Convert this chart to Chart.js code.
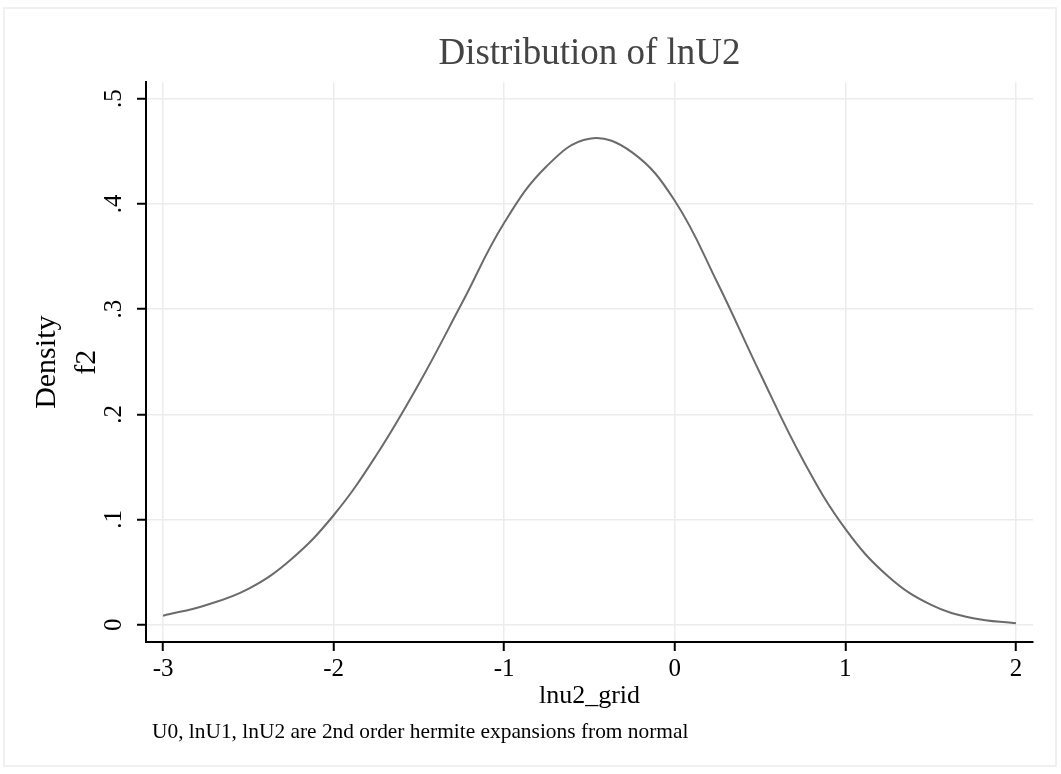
<!DOCTYPE html>
<html>
<head>
<meta charset="utf-8">
<script src="https://cdn.jsdelivr.net/npm/chart.js@4/dist/chart.umd.min.js"></script>
<style>
  html, body { margin: 0; padding: 0; background: #fff; }
  #wrap { position: relative; width: 1061px; height: 774px; }
  #frame { position: absolute; left: 3px; top: 7px; width: 1054px; height: 760px;
           border: 2px solid #f0f0f0; box-sizing: border-box; }
  #note { position: absolute; left: 152px; top: 719px; font: 21.4px 'Liberation Serif', serif;
          line-height: 24px; color: #000; white-space: nowrap; }
  canvas { position: absolute; left: 0; top: 0; }
</style>
</head>
<body>
<div id="wrap">
  <div id="frame"></div>
  <canvas id="chart" width="1061" height="774"></canvas>
  <div id="note">U0, lnU1, lnU2 are 2nd order hermite expansions from normal</div>
</div>
<script>
'use strict';

// ── data ──
const lnu2Grid = [-3, -2.75, -2.5, -2.25, -2, -1.75, -1.5, -1.25, -1, -0.75, -0.5,
                  -0.25, 0, 0.25, 0.5, 0.75, 1, 1.25, 1.5, 1.75, 2];
const f2 = [0.0085, 0.0185, 0.034, 0.062, 0.104, 0.161, 0.229, 0.305, 0.382, 0.436, 0.462,
            0.449, 0.403, 0.325, 0.239, 0.157, 0.091, 0.046, 0.019, 0.006, 0.0013];

const xTicks = [-3, -2, -1, 0, 1, 2];
const xTickLabels = ['-3', '-2', '-1', '0', '1', '2'];
const yTicks = [0, 0.1, 0.2, 0.3, 0.4, 0.5];
const yTickLabels = ['0', '.1', '.2', '.3', '.4', '.5'];

const SERIF = "'Liberation Serif', 'Times New Roman', serif";
const GRID = '#ececec';

new Chart(document.getElementById('chart'), {
  type: 'line',
  data: {
    datasets: [{
      label: 'f2',
      data: lnu2Grid.map((x, i) => ({ x, y: f2[i] })),
      borderColor: '#6b6b6b',
      borderWidth: 2,
      pointRadius: 0,
      fill: false,
      tension: 0.4
    }]
  },
  options: {
    responsive: false,
    animation: false,
    layout: { padding: { left: 6, right: 28, top: 0, bottom: 59 } },
    plugins: {
      legend: { display: false },
      tooltip: { enabled: false },
      title: {
        display: true,
        fullSize: false, // centre over the plot region, as Stata does
        text: 'Distribution of lnU2',
        color: '#444',
        font: { family: SERIF, size: 37, weight: 'normal' },
        padding: { top: 32, bottom: 6 }
      }
    },
    scales: {
      x: {
        type: 'linear',
        min: -3.1, max: 2.1,
        afterBuildTicks: s => { s.ticks = xTicks.map(v => ({ value: v })); },
        afterFit: s => { s.height = 73; },
        grid: { color: GRID, lineWidth: 1.5, tickColor: '#000', tickWidth: 2, tickLength: 9 },
        border: { display: true, color: '#000', width: 2 },
        ticks: {
          color: '#000', padding: 3, maxRotation: 0,
          font: { family: SERIF, size: 25 },
          callback: (v, i) => xTickLabels[i]
        },
        title: {
          display: true, text: 'lnu2_grid', color: '#000',
          font: { family: SERIF, size: 26 },
          padding: { top: 0, bottom: 3 }
        }
      },
      y: {
        type: 'linear',
        min: -0.0165, max: 0.5155,
        afterBuildTicks: s => { s.ticks = yTicks.map(v => ({ value: v })); },
        afterFit: s => { s.width = 140; },
        grid: { color: GRID, lineWidth: 1.5, tickColor: '#000', tickWidth: 2, tickLength: 9 },
        border: { display: true, color: '#000', width: 2 },
        ticks: {
          color: '#000', padding: 13, minRotation: 90, maxRotation: 90, crossAlign: 'center',
          font: { family: SERIF, size: 25 },
          callback: (v, i) => yTickLabels[i]
        },
        title: {
          display: true, text: ['Density', 'f2'], color: '#000',
          font: { family: SERIF, size: 30, lineHeight: 1.33 },
          padding: { top: 21, bottom: 0 }
        }
      }
    }
  }
});
</script>
</body>
</html>
